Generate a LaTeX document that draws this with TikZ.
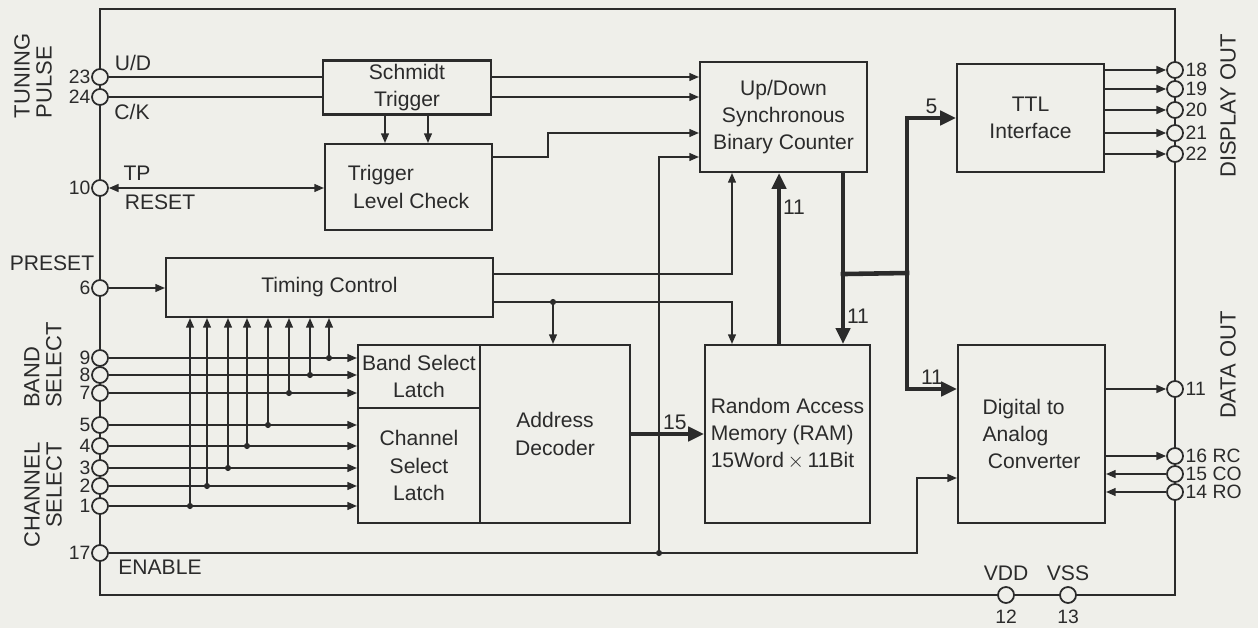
\documentclass[tikz,border=0pt]{standalone}
\usepackage{fontspec}
\setmainfont{Liberation Sans}
\usepackage{xcolor}
\definecolor{paper}{HTML}{EFEFEA}
\definecolor{ink}{HTML}{2B2B2B}
\usepackage{tikz}
\usetikzlibrary{arrows.meta, calc}
\tikzset{
    block/.style = {draw=ink, line width=1.2pt, fill=paper, align=center, inner sep=2pt,
                    text=ink, font=\fontsize{12}{15.5}\selectfont},
    pin/.style = {circle, draw=ink, line width=1pt, fill=paper, minimum size=0.32cm, inner sep=0pt},
    dot/.style = {circle, fill=ink, minimum size=3.5pt, inner sep=0pt},
    lbl/.style = {text=ink, inner sep=1pt, font=\fontsize{12}{14}\selectfont},
    num/.style = {text=ink, inner sep=0.2pt, font=\fontsize{11}{12}\selectfont},
    grp/.style = {rotate=90, text=ink, inner sep=0pt, font=\fontsize{12.5}{12.5}\selectfont},
    wire/.style = {line width=0.9pt, draw=ink},
    sig/.style = {-{Triangle[length=5.5pt, width=4.5pt]}, line width=0.9pt, draw=ink},
    sigboth/.style = {{Triangle[length=5.5pt, width=4.5pt]}-{Triangle[length=5.5pt, width=4.5pt]},
                      line width=0.9pt, draw=ink},
    bus/.style = {-{Triangle[length=9pt, width=8pt]}, line width=2.6pt, draw=ink},
    busline/.style = {line width=2.6pt, draw=ink, line cap=rect},
}

\begin{document}
\begin{tikzpicture}[x=0.02cm, y=-0.02cm]
        \fill[paper] (0,0) rectangle (1258,628);
        \useasboundingbox (0,0) rectangle (1258,628);
        \draw[ink, line width=1.1pt] (100,9) rectangle (1175,595);

        \foreach \n/\y in {23/77, 24/97, 10/188, 6/288, 9/358, 8/375, 7/393,
                           5/425, 4/446, 3/468, 2/486, 1/506, 17/553} {
            \node[pin] (p\n) at (100,\y) {};
            \node[num, anchor=east] (n\n) at (91,\y) {\n};
        }
        \foreach \n/\y/\t in {18/70/18, 19/89/19, 20/110/20, 21/133/21, 22/154/22,
                              11/389/11, 16/456/16 RC, 15/474/15 CO, 14/492/14 RO} {
            \node[pin] (p\n) at (1175,\y) {};
            \node[num, anchor=west] (n\n) at (1185,\y) {\t};
        }
        \node[pin] (p12) at (1006,595) {};
        \node[pin] (p13) at (1068,595) {};

        \node[block, minimum width=3.36cm, minimum height=1.02cm] (schmidt) at (407,87.5) {Schmidt\\Trigger};
        \node[block, minimum width=3.34cm, minimum height=1.72cm, align=left] (tlc) at (408.5,187) {Trigger\\\hspace{3pt}Level Check};
        \node[block, minimum width=6.54cm, minimum height=1.18cm] (timing) at (329.5,287.5) {Timing Control};
        \node[block, minimum width=2.44cm, minimum height=1.26cm] (band) at (419,376.5) {Band Select\\Latch};
        \node[block, minimum width=2.44cm, minimum height=2.3cm] (chan) at (419,465.5) {Channel\\Select\\Latch};
        \node[block, minimum width=3.0cm, minimum height=3.56cm] (addr) at (555,434) {Address\\Decoder};
        \node[block, minimum width=3.34cm, minimum height=2.2cm] (counter) at (783.5,117) {Up/Down\\Synchronous\\Binary Counter};
        \node[block, minimum width=2.94cm, minimum height=2.16cm] (ttl) at (1030.5,118) {TTL\\Interface};
        \node[block, minimum width=3.3cm, minimum height=3.56cm, align=left] (ram) at (787.5,434) {Random Access\\Memory (RAM)\\15Word\,$\times$\,11Bit};
        \node[block, minimum width=2.94cm, minimum height=3.56cm, align=left] (dac) at (1031.5,434) {Digital to\\Analog\\\hspace{3pt}Converter};

        \draw[wire] (p23) -- (p23 -| schmidt.west);
        \draw[wire] (p24) -- (p24 -| schmidt.west);
        \draw[sig] (p23 -| schmidt.east) -- (p23 -| counter.west);
        \draw[sig] (p24 -| schmidt.east) -- (p24 -| counter.west);
        \coordinate (sa) at ($(schmidt.south)+(-22,0)$);
        \coordinate (sb) at ($(schmidt.south)+(21,0)$);
        \draw[sig] (sa) -- (sa |- tlc.north);
        \draw[sig] (sb) -- (sb |- tlc.north);
        \draw[sigboth] (p10) -- (p10 -| tlc.west);
        \draw[sig] ($(tlc.east)+(0,-30)$) -- ++(55,0) |- ($(counter.west)+(0,16)$);
        \draw[sig] (p6) -- (p6 -| timing.west);

        \foreach \n in {9,8,7} \draw[sig] (p\n) -- (p\n -| band.west);
        \foreach \n in {5,4,3,2,1} \draw[sig] (p\n) -- (p\n -| chan.west);
        \foreach \n/\x in {9/329, 8/310, 7/289, 5/268, 4/247, 3/228, 2/207, 1/190} {
            \node[dot] (d\n) at ($(p\n)+(\x-100,0)$) {};
            \draw[sig] (d\n) -- (d\n |- timing.south);
        }

        \coordinate (tj) at (732,288);
        \draw[sig] ($(timing.east)+(0,-13.5)$) -| (tj |- counter.south);
        \draw[sig] ($(timing.east)+(0,14.5)$) -| (tj |- ram.north);
        \node[dot] (dt) at (553,302) {};
        \draw[sig] (dt) -- (dt |- addr.north);

        \node[dot] (de) at (659,553) {};
        \draw[sig] (de) |- ($(counter.west)+(0,40)$);
        \coordinate (ej) at (917,553);
        \draw[sig] (p17) -- (ej) |- ($(dac.west)+(0,44)$);

        \draw[bus] (addr.east) -- node[lbl, above, pos=0.6] (b15) {15} (ram.west);
        \coordinate (ru) at ($(ram.north)+(-8.5,0)$);
        \draw[bus] (ru) -- node[lbl, right, pos=0.8] (b11a) {11} (ru |- counter.south);
        \coordinate (cd) at ($(counter.south)+(59.5,0)$);
        \draw[bus] (cd) -- node[lbl, right, pos=0.84] (b11b) {11} (cd |- ram.north);
        \coordinate (bj) at ($(cd)+(0,101)$);
        \coordinate (bx) at (907,273);
        \draw[busline] (bj) -- (bx);
        \draw[bus] (bx) |- node[lbl, above, pos=0.75] (b5) {5} (ttl.west);
        \draw[bus] (bx) |- node[lbl, above, pos=0.75] (b11c) {11} ($(dac.west)+(0,-45)$);

        \foreach \n in {18,...,22} \draw[sig] (p\n -| ttl.east) -- (p\n);
        \draw[sig] (p11 -| dac.east) -- (p11);
        \draw[sig] (p16 -| dac.east) -- (p16);
        \draw[sig] (p15) -- (p15 -| dac.east);
        \draw[sig] (p14) -- (p14 -| dac.east);

        \node[lbl] (lud) at (133,63) {U/D};
        \node[lbl] (lck) at (132,112) {C/K};
        \node[lbl] (ltp) at (137,173) {TP};
        \node[lbl] (lrst) at (160,202) {RESET};
        \node[lbl] (lpre) at (52,263) {PRESET};
        \node[lbl] (len) at (160,567) {ENABLE};
        \node[grp, align=left] (ltun) at (33,76) {TUNING\\PULSE};
        \node[grp, align=left] (lband) at (43,365) {BAND\\SELECT};
        \node[grp, align=right] (lchan) at (43,495) {CHANNEL\\SELECT};
        \node[grp] (ldisp) at (1228,106) {DISPLAY OUT};
        \node[grp] (ldata) at (1228,365) {DATA OUT};
        \node[lbl] (lvdd) at (1006,573) {VDD};
        \node[lbl] (lvss) at (1068,573) {VSS};
        \node[num] (n12) at (1006,617) {12};
        \node[num] (n13) at (1068,617) {13};
      \end{tikzpicture}
\end{document}
